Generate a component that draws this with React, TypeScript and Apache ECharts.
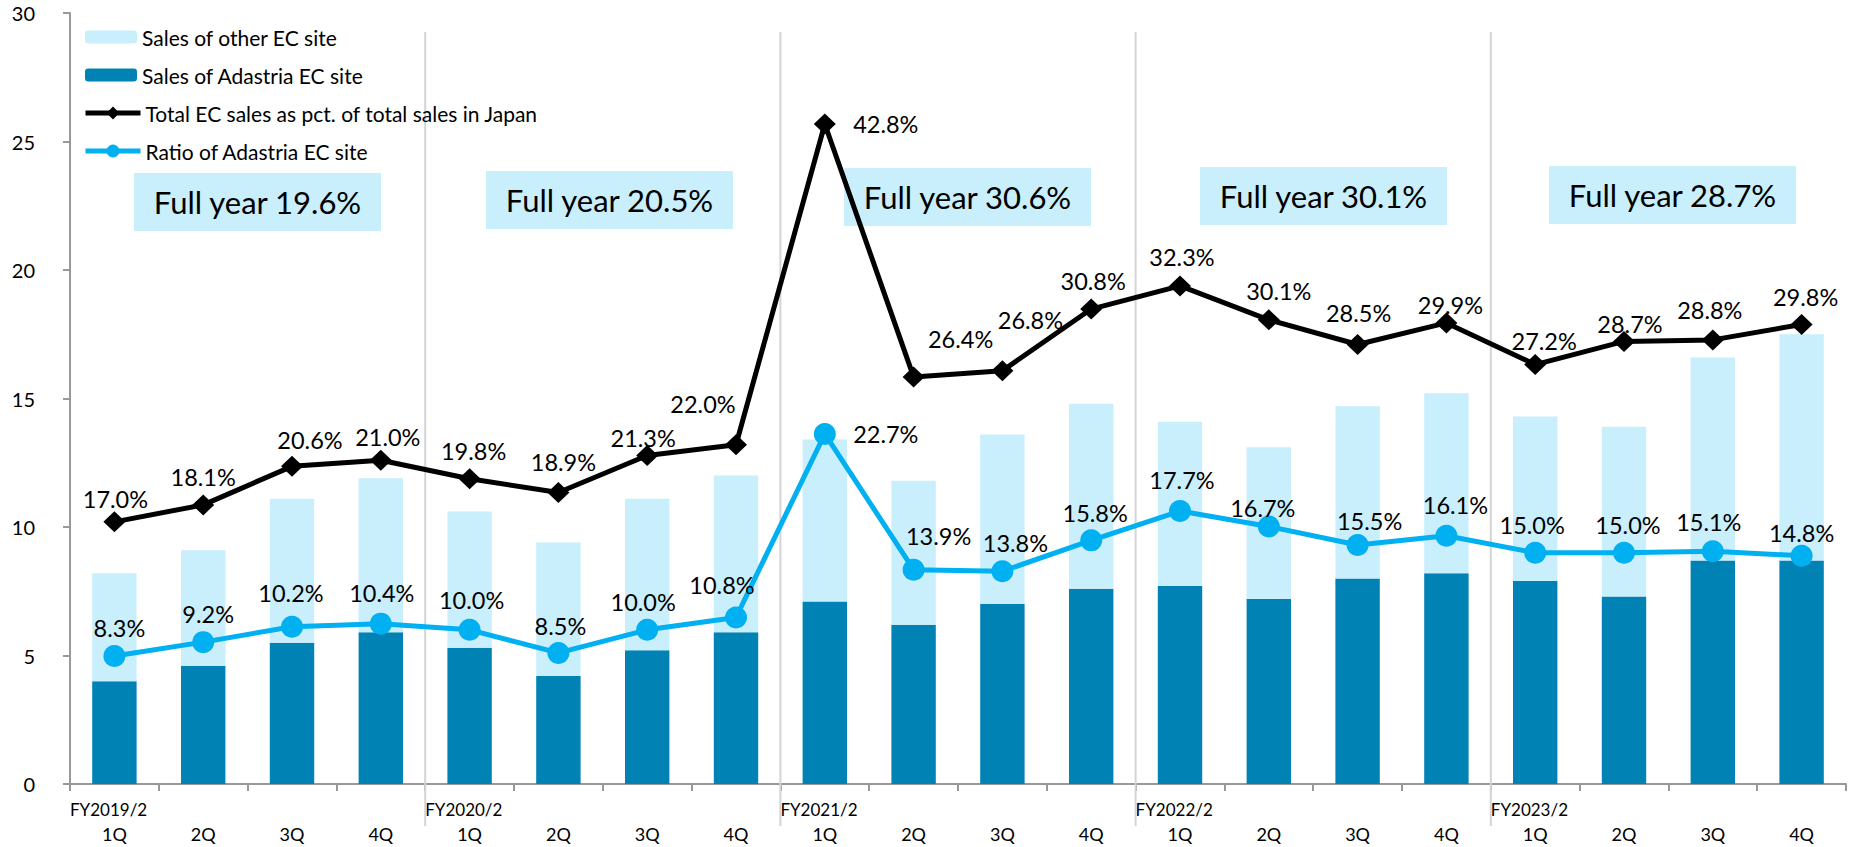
import React, { useEffect, useRef } from "react";
import * as echarts from "echarts";

const quarters = ["1Q", "2Q", "3Q", "4Q", "1Q", "2Q", "3Q", "4Q", "1Q", "2Q", "3Q", "4Q", "1Q", "2Q", "3Q", "4Q", "1Q", "2Q", "3Q", "4Q"];
const fiscalYears = ["FY2019/2", "FY2020/2", "FY2021/2", "FY2022/2", "FY2023/2"];
const adastriaSales = [4.0, 4.6, 5.5, 5.9, 5.3, 4.2, 5.2, 5.9, 7.1, 6.2, 7.0, 7.6, 7.7, 7.2, 8.0, 8.2, 7.9, 7.3, 8.7, 8.7];
const otherSales = [4.2, 4.5, 5.6, 6.0, 5.3, 5.2, 5.9, 6.1, 6.3, 5.6, 6.6, 7.2, 6.4, 5.9, 6.7, 7.0, 6.4, 6.6, 7.9, 8.8];
const totalEcPct = [17.0, 18.1, 20.6, 21.0, 19.8, 18.9, 21.3, 22.0, 42.8, 26.4, 26.8, 30.8, 32.3, 30.1, 28.5, 29.9, 27.2, 28.7, 28.8, 29.8];
const adastriaRatio = [8.3, 9.2, 10.2, 10.4, 10.0, 8.5, 10.0, 10.8, 22.7, 13.9, 13.8, 15.8, 17.7, 16.7, 15.5, 16.1, 15.0, 15.0, 15.1, 14.8];
const fullYearPct = [19.6, 20.5, 30.6, 30.1, 28.7];
const yTicks = [0, 5, 10, 15, 20, 25, 30];

// layout: label offsets (px) relative to each marker centre
const totalLabelOffsets = [[1, -23], [0, -28], [18, -26], [7, -23], [4, -28], [5, -31], [-4, -18], [-33, -41], [61, 0], [47, -38], [28, -51], [2, -28], [2, -29], [10, -29], [1, -32], [4, -18], [9, -24], [6, -17], [-3, -30], [4, -27]];
const ratioLabelOffsets = [[5, -28], [5, -28], [-1, -34], [1, -31], [2, -30], [2, -27], [-4, -28], [-14, -32], [61, 0], [25, -34], [13, -28], [4, -27], [2, -31], [-6, -18], [12, -24], [9, -31], [-3, -28], [4, -28], [-4, -29], [0, -23]];
const boxLefts = [134, 486, 844, 1200, 1549];
const boxTops = [173, 171, 168, 167, 166];

const FONT = "Lato";
const LIGHT = "#c9eefc";
const DARK = "#0083b4";
const BLUE = "#00b0f0";

const NAME_OTHER = "Sales of other EC site";
const NAME_ADASTRIA = "Sales of Adastria EC site";
const NAME_TOTAL = "Total EC sales as pct. of total sales in Japan";
const NAME_RATIO = "Ratio of Adastria EC site";

export default function App() {
  const ref = useRef<HTMLDivElement>(null);
  useEffect(() => {
    if (!ref.current) return;
    const chart = echarts.init(ref.current, null, { renderer: "svg" });
    const pctLabel = (p: any) => Number(p.value).toFixed(1) + "%";
    const legendText = { fontSize: 21, lineHeight: 26, color: "#000", fontFamily: FONT };
    chart.setOption({
      animation: false,
      textStyle: { fontFamily: FONT },
      grid: { left: 70, top: 13, width: 1781, height: 771 },
      legend: [
        {
          orient: "vertical",
          left: 85,
          top: 24,
          padding: 0,
          itemWidth: 52,
          itemHeight: 13,
          itemGap: 12,
          textStyle: legendText,
          data: [NAME_OTHER, NAME_ADASTRIA],
        },
        {
          orient: "vertical",
          left: 83,
          top: 100,
          padding: 0,
          itemWidth: 55,
          itemHeight: 16,
          itemGap: 12,
          textStyle: legendText,
          data: [
            { name: NAME_TOTAL, lineStyle: { width: 5, color: "#000" }, itemStyle: { color: "#000" } },
            { name: NAME_RATIO, lineStyle: { width: 5, color: BLUE }, itemStyle: { color: BLUE } },
          ],
        },
      ],
      xAxis: [
        {
          type: "category",
          data: quarters,
          boundaryGap: true,
          position: "bottom",
          axisLine: { show: true, lineStyle: { color: "#999", width: 2 } },
          axisTick: { show: true, length: 7, lineStyle: { color: "#999", width: 2 } },
          axisLabel: { margin: 41, fontSize: 18, color: "#000", fontFamily: FONT },
          splitLine: { show: false },
        },
        {
          type: "value",
          min: 0,
          max: 20,
          interval: 4,
          position: "bottom",
          axisLine: { show: false },
          axisTick: { show: false },
          splitLine: { show: false },
          showMaxLabel: false,
          axisLabel: {
            margin: 17,
            align: "left",
            fontSize: 17,
            color: "#000",
            fontFamily: FONT,
            formatter: (v: number) => (v < 20 ? fiscalYears[v / 4] : ""),
          },
        },
      ],
      yAxis: [
        {
          type: "value",
          min: 0,
          max: 30,
          interval: 5,
          axisLine: { show: true, lineStyle: { color: "#999", width: 2 } },
          axisTick: { show: true, length: 7, lineStyle: { color: "#999", width: 2 } },
          axisLabel: {
            margin: 35,
            fontSize: 20,
            color: "#000",
            fontFamily: FONT,
            formatter: (v: number) => (yTicks.includes(v) ? String(v) : ""),
          },
          splitLine: { show: false },
        },
        { type: "value", min: 0, max: 50, show: false },
      ],
      series: [
        {
          name: NAME_ADASTRIA,
          type: "bar",
          stack: "sales",
          barWidth: "50%",
          itemStyle: { color: DARK },
          data: adastriaSales,
        },
        {
          name: NAME_OTHER,
          type: "bar",
          stack: "sales",
          barWidth: "50%",
          itemStyle: { color: LIGHT },
          data: otherSales,
        },
        {
          name: NAME_RATIO,
          type: "line",
          yAxisIndex: 1,
          symbol: "circle",
          symbolSize: 22,
          z: 3,
          lineStyle: { color: BLUE, width: 5 },
          itemStyle: { color: BLUE },
          label: {
            show: true,
            position: "inside",
            color: "#000",
            fontSize: 23.5,
            fontFamily: FONT,
            formatter: pctLabel,
          },
          data: adastriaRatio.map((v, i) => ({ value: v, label: { offset: ratioLabelOffsets[i] } })),
        },
        {
          name: NAME_TOTAL,
          type: "line",
          yAxisIndex: 1,
          symbol: "diamond",
          symbolSize: [22, 21],
          z: 4,
          lineStyle: { color: "#000", width: 5 },
          itemStyle: { color: "#000" },
          label: {
            show: true,
            position: "inside",
            color: "#000",
            fontSize: 23.5,
            fontFamily: FONT,
            formatter: pctLabel,
          },
          data: totalEcPct.map((v, i) => ({ value: v, label: { offset: totalLabelOffsets[i] } })),
        },
      ],
    });

    const graphics: any[] = [];
    [4, 8, 12, 16].forEach((v) => {
      const x = chart.convertToPixel({ xAxisIndex: 1 }, v) as number;
      graphics.push({
        type: "line",
        shape: { x1: x, y1: 32, x2: x, y2: 826 },
        style: { stroke: "#d4d4d4", lineWidth: 2 },
        z: 1,
      });
    });
    fullYearPct.forEach((v, i) => {
      graphics.push({
        type: "group",
        left: boxLefts[i],
        top: boxTops[i],
        z: 5,
        children: [
          { type: "rect", shape: { x: 0, y: 0, width: 247, height: 58 }, style: { fill: LIGHT } },
          {
            type: "text",
            x: 123.5,
            y: 29,
            style: {
              text: "Full year " + v.toFixed(1) + "%",
              fill: "#000",
              fontSize: 31,
              fontFamily: FONT,
              align: "center",
              verticalAlign: "middle",
            },
          },
        ],
      });
    });
    chart.setOption({ graphic: graphics });

    return () => chart.dispose();
  }, []);
  return (
    <div
      ref={ref}
      style={{ position: "fixed", left: 0, top: 0, width: 1849, height: 847, background: "#fff" }}
    />
  );
}
